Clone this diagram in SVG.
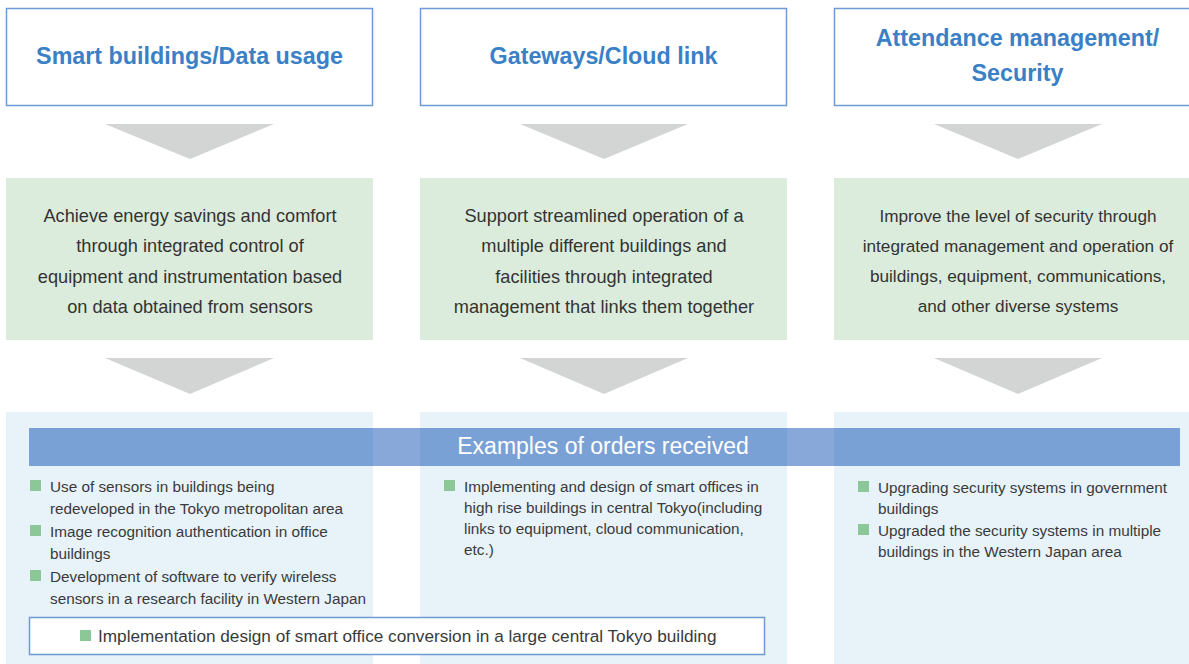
<svg xmlns="http://www.w3.org/2000/svg" width="1189" height="664" viewBox="0 0 1189 664">
<style>
.title{font-family:"Liberation Sans",Arial,sans-serif;font-weight:bold;font-size:23.3px;fill:#3a80c6;text-anchor:middle}
.desc{font-family:"Liberation Sans",Arial,sans-serif;font-size:18.2px;fill:#333;text-anchor:middle}
.item{font-family:"Liberation Sans",Arial,sans-serif;font-size:15.3px;fill:#3a3a3a}
.band{font-family:"Liberation Sans",Arial,sans-serif;font-size:23px;fill:#fff;text-anchor:middle}
.hbox{fill:#fff;stroke:#6f9bd4;stroke-width:1.5}
.gbox{fill:#dcecdc}
.lbox{fill:#e7f2f9}
.tri{fill:#d3d4d4}
.sq{fill:#8cc897}
</style>
<g id="col1-title"><rect class="hbox" x="6.5" y="8.5" width="366" height="97"/><text class="title" x="189.5" y="64">Smart buildings/Data usage</text></g>
<g id="col2-title"><rect class="hbox" x="420.5" y="8.5" width="366" height="97"/><text class="title" x="603.5" y="64">Gateways/Cloud link</text></g>
<g id="col3-title"><rect class="hbox" x="834.5" y="8.5" width="366" height="97"/><text class="title" x="1017.5" y="46">Attendance management/</text><text class="title" x="1017.5" y="81">Security</text></g>
<g id="connectors">
<polygon class="tri" points="105,124 274,124 190,159"/>
<polygon class="tri" points="520,124 688,124 604,159"/>
<polygon class="tri" points="934,124 1102,124 1018,159"/>
<polygon class="tri" points="105,358 274,358 190,394"/>
<polygon class="tri" points="520,358 688,358 604,394"/>
<polygon class="tri" points="934,358 1102,358 1018,394"/>
</g>
<g id="col1-desc"><rect class="gbox" x="6" y="178" width="367" height="162"/>
<text class="desc" x="190" y="222">Achieve energy savings and comfort</text>
<text class="desc" x="190" y="252">through integrated control of</text>
<text class="desc" x="190" y="283">equipment and instrumentation based</text>
<text class="desc" x="190" y="313">on data obtained from sensors</text></g>
<g id="col2-desc"><rect class="gbox" x="420" y="178" width="367" height="162"/>
<text class="desc" x="604" y="222">Support streamlined operation of a</text>
<text class="desc" x="604" y="252">multiple different buildings and</text>
<text class="desc" x="604" y="283">facilities through integrated</text>
<text class="desc" x="604" y="313">management that links them together</text></g>
<g id="col3-desc"><rect class="gbox" x="834" y="178" width="367" height="162"/>
<text class="desc" x="1018" y="222" style="font-size:17.2px">Improve the level of security through</text>
<text class="desc" x="1018" y="252" style="font-size:17.2px">integrated management and operation of</text>
<text class="desc" x="1018" y="282" style="font-size:17.2px">buildings, equipment, communications,</text>
<text class="desc" x="1018" y="312" style="font-size:17.2px">and other diverse systems</text></g>
<g id="col1-examples"><rect class="lbox" x="6" y="412" width="367" height="252"/></g>
<g id="col2-examples"><rect class="lbox" x="420" y="412" width="367" height="252"/></g>
<g id="col3-examples"><rect class="lbox" x="834" y="412" width="367" height="252"/></g>
<g id="band"><rect x="29" y="428" width="1151" height="38" fill="rgb(5,74,174)" fill-opacity="0.48"/>
<text class="band" x="603" y="454">Examples of orders received</text></g>
<g id="col1-items">
<rect class="sq" x="30" y="480" width="11" height="11"/>
<text class="item" x="50" y="492">Use of sensors in buildings being</text>
<text class="item" x="50" y="514">redeveloped in the Tokyo metropolitan area</text>
<rect class="sq" x="30" y="525" width="11" height="11"/>
<text class="item" x="50" y="537">Image recognition authentication in office</text>
<text class="item" x="50" y="559">buildings</text>
<rect class="sq" x="30" y="570" width="11" height="11"/>
<text class="item" x="50" y="582">Development of software to verify wireless</text>
<text class="item" x="50" y="604">sensors in a research facility in Western Japan</text>
</g>
<g id="col2-items">
<rect class="sq" x="444" y="480" width="11" height="11"/>
<text class="item" x="464" y="492">Implementing and design of smart offices in</text>
<text class="item" x="464" y="513">high rise buildings in central Tokyo(including</text>
<text class="item" x="464" y="534">links to equipment, cloud communication,</text>
<text class="item" x="464" y="555">etc.)</text>
</g>
<g id="col3-items">
<rect class="sq" x="858" y="481" width="11" height="11"/>
<text class="item" x="878" y="493">Upgrading security systems in government</text>
<text class="item" x="878" y="514">buildings</text>
<rect class="sq" x="858" y="524" width="11" height="11"/>
<text class="item" x="878" y="536">Upgraded the security systems in multiple</text>
<text class="item" x="878" y="557">buildings in the Western Japan area</text>
</g>
<g id="highlight"><rect x="29.5" y="617.5" width="735" height="37" fill="#fff" stroke="#6f9bd4" stroke-width="1.5"/>
<rect class="sq" x="80" y="630" width="11" height="11"/>
<text class="item" x="98" y="642" style="font-size:17.2px">Implementation design of smart office conversion in a large central Tokyo building</text></g>
</svg>
